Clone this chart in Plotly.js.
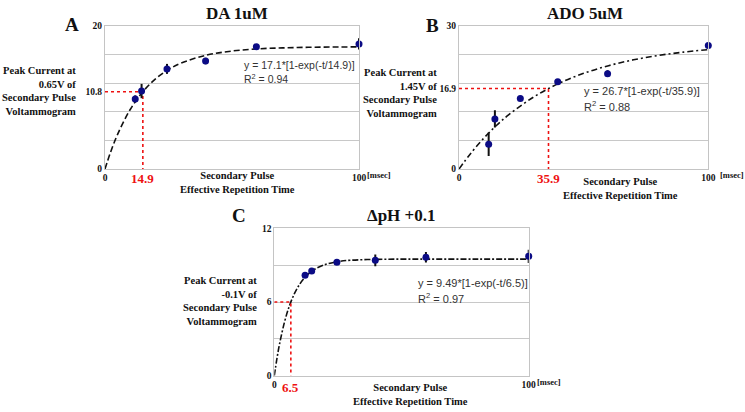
<!DOCTYPE html>
<html><head><meta charset="utf-8">
<script src="https://cdn.plot.ly/plotly-3.0.1.min.js"></script>
<style>html,body{margin:0;padding:0;background:#fff}</style>
</head><body>
<div id="chart" style="width:745px;height:412px"></div>
<script>
// ---- Panel A: DA 1uM ----
const timeA = [11.9, 14.4, 24.4, 39.6, 59.6, 100];
const currentA = [9.8, 10.9, 14.0, 15.1, 17.1, 17.5];
const errA = [0.5, 1.0, 0.7, 0.45, 0.2, 0.8];
const fitTimeA = [0, 2, 5, 10, 15, 20, 25, 30, 40, 50, 60, 70, 80, 90, 100];
const fitA = [0, 2.15, 4.88, 8.36, 10.85, 12.63, 13.91, 14.82, 15.93, 16.50, 16.80, 16.94, 17.02, 17.06, 17.08];
const tauA = 14.9, halfA = 10.8;
const eqA = ["y = 17.1*[1-exp(-t/14.9)]", "R<sup>2</sup> = 0.94"];

// ---- Panel B: ADO 5uM ----
const timeB = [11.9, 14.4, 24.6, 39.6, 59.6, 100];
const currentB = [5.2, 10.5, 14.8, 18.3, 20.0, 25.9];
const errB = [2.45, 1.8, 0.3, 0.3, 0.7, 0.3];
const fitTimeB = [0, 5, 10, 15, 20, 30, 40, 50, 60, 70, 80, 90, 100];
const fitB = [0, 3.47, 6.49, 9.12, 11.40, 15.12, 17.94, 20.07, 21.68, 22.90, 23.82, 24.52, 25.05];
const tauB = 35.9, halfB = 16.9;
const eqB = ["y = 26.7*[1-exp(-t/35.9)]", "R<sup>2</sup> = 0.88"];

// ---- Panel C: ΔpH +0.1 ----
const timeC = [12.1, 14.7, 24.6, 39.7, 59.6, 100];
const currentC = [8.17, 8.52, 9.23, 9.39, 9.64, 9.72];
const errC = [0.1, 0.1, 0.1, 0.47, 0.43, 0.54];
const fitTimeC = [0, 1, 2, 4, 6, 8, 10, 12, 15, 20, 25, 30, 40, 50, 60, 80, 100];
const fitC = [0, 1.35, 2.51, 4.36, 5.72, 6.72, 7.45, 7.99, 8.55, 9.05, 9.29, 9.40, 9.47, 9.49, 9.49, 9.49, 9.49];
const tauC = 6.5, halfC = 6;
const eqC = ["y = 9.49*[1-exp(-t/6.5)]", "R<sup>2</sup> = 0.97"];

const titles = ["DA 1uM", "ADO 5uM", "\u0394pH +0.1"];
const letters = ["A", "B", "C"];
const yLabels = [
  "Peak Current at<br>0.65V of<br>Secondary Pulse<br>Voltammogram",
  "Peak Current at<br>1.45V of<br>Secondary Pulse<br>Voltammogram",
  "Peak Current at<br>-0.1V of<br>Secondary Pulse<br>Voltammogram"
];
const xLabel = "Secondary Pulse<br>Effective Repetition Time";
const yTicksA = [0, 10.8, 20], yTicksB = [0, 16.9, 30], yTicksC = [0, 6, 12];
const xTicks = [0, 100];

const SERIF = "Liberation Serif, Times New Roman, serif";
const SANS = "Liberation Sans, Arial, sans-serif";
const W = 745, H = 412;
const px = v => v / W, py = v => 1 - v / H;

const panels = [
  {t: timeA, c: currentA, e: errA, ft: fitTimeA, f: fitA, tau: tauA, half: halfA, xa: 'x', ya: 'y', dash: '6px,3px'},
  {t: timeB, c: currentB, e: errB, ft: fitTimeB, f: fitB, tau: tauB, half: halfB, xa: 'x2', ya: 'y2', dash: '6px,3px,2px,3px'},
  {t: timeC, c: currentC, e: errC, ft: fitTimeC, f: fitC, tau: tauC, half: halfC, xa: 'x3', ya: 'y3', dash: '6px,2px,2px,2px'}
];

const traces = [];
panels.forEach(p => {
  traces.push({x: p.ft, y: p.f, xaxis: p.xa, yaxis: p.ya, mode: 'lines', line: {shape: 'spline', color: '#111', width: 1.6, dash: p.dash}, hoverinfo: 'skip', cliponaxis: false});
  traces.push({x: [0, p.tau, p.tau], y: [p.half, p.half, 0], xaxis: p.xa, yaxis: p.ya, mode: 'lines', line: {color: '#ee1111', width: 1.6, dash: 'dot'}, hoverinfo: 'skip'});
  traces.push({x: p.t, y: p.c, xaxis: p.xa, yaxis: p.ya, mode: 'markers', marker: {color: '#0b0b85', size: 7}, cliponaxis: false,
    error_y: {type: 'data', array: p.e, visible: true, color: '#111', thickness: 2, width: 0}});
});

function xAxis(domain) {
  return {domain: domain, range: [0, 100], showgrid: false, zeroline: false, showline: true, mirror: true,
    linecolor: '#c4c4c4', linewidth: 1, ticks: '', tickvals: xTicks, ticktext: xTicks.map(String),
    tickfont: {family: SERIF, size: 9.5, color: '#111', weight: 'bold'}, fixedrange: true};
}
function yAxis(domain, range, tv, dtick, major, anchor) {
  return {domain: domain, range: range, anchor: anchor, showgrid: major, gridcolor: '#c8c8c8', zeroline: false, showline: true, mirror: true,
    linecolor: '#c4c4c4', linewidth: 1, ticks: '', tickvals: tv, ticktext: tv.map(String),
    tickfont: {family: SERIF, size: 9.5, color: '#111', weight: 'bold'}, fixedrange: true,
    minor: {dtick: dtick, tick0: 0, showgrid: true, gridcolor: '#c8c8c8', ticks: ''}};
}

const annotations = [];
function ann(text, x, y, opts) {
  annotations.push(Object.assign({text: text, x: px(x), y: py(y), xref: 'paper', yref: 'paper', showarrow: false,
    xanchor: 'center', yanchor: 'middle'}, opts));
}
const titleFont = {family: SERIF, size: 17, color: '#111', weight: 'bold'};
const letterFont = {family: SERIF, size: 19, color: '#111', weight: 'bold'};
const labFont = {family: SERIF, size: 10.5, color: '#111', weight: 'bold'};
const eqFont = {family: SANS, size: 11, color: '#333'};
const eqFontA = {family: SANS, size: 10.5, color: '#333'};
const redFont = {family: SERIF, size: 13, color: '#ee1111', weight: 'bold'};
const msecFont = {family: SERIF, size: 8.5, color: '#111', weight: 'bold'};

// titles & letters
ann(titles[0], 237, 14, {font: titleFont});
ann(titles[1], 585, 14, {font: titleFont});
ann(titles[2], 401, 215, {font: titleFont});
ann(letters[0], 72, 25, {font: letterFont});
ann(letters[1], 432, 26, {font: letterFont});
ann(letters[2], 238.5, 215, {font: letterFont});
// y labels
ann(yLabels[0], 78, 91, {font: labFont, xanchor: 'right', align: 'right'});
ann(yLabels[1], 439, 93, {font: labFont, xanchor: 'right', align: 'right'});
ann(yLabels[2], 259, 301, {font: labFont, xanchor: 'right', align: 'right'});
// x labels
ann(xLabel, 237, 182, {font: labFont});
ann(xLabel, 620, 188.5, {font: labFont});
ann(xLabel, 410, 394.5, {font: labFont});
// equations
ann(eqA[0], 242, 65, {font: eqFontA, xanchor: 'left'});
ann(eqA[1], 242, 78, {font: eqFontA, xanchor: 'left'});
ann(eqB[0], 582, 91, {font: eqFont, xanchor: 'left'});
ann(eqB[1], 582, 106, {font: eqFont, xanchor: 'left'});
ann(eqC[0], 416, 283, {font: eqFont, xanchor: 'left'});
ann(eqC[1], 416, 298, {font: eqFont, xanchor: 'left'});
// red tau labels (x data coordinates)
annotations.push({text: String(tauA), x: tauA, xref: 'x', y: py(178), yref: 'paper', showarrow: false, font: redFont, yanchor: 'middle'});
annotations.push({text: String(tauB), x: tauB, xref: 'x2', y: py(178), yref: 'paper', showarrow: false, font: redFont, yanchor: 'middle'});
annotations.push({text: String(tauC), x: tauC, xref: 'x3', y: py(387), yref: 'paper', showarrow: false, font: redFont, yanchor: 'middle'});
// [msec]
annotations.push({text: "[msec]", x: 100, xref: 'x', xshift: 6, y: py(175), yref: 'paper', xanchor: 'left', showarrow: false, font: msecFont, yanchor: 'middle'});
annotations.push({text: "[msec]", x: 100, xref: 'x2', xshift: 10, y: py(175), yref: 'paper', xanchor: 'left', showarrow: false, font: msecFont, yanchor: 'middle'});
annotations.push({text: "[msec]", x: 100, xref: 'x3', xshift: 6, y: py(382), yref: 'paper', xanchor: 'left', showarrow: false, font: msecFont, yanchor: 'middle'});

const layout = {
  width: W, height: H, autosize: false, margin: {l: 0, r: 0, t: 0, b: 0},
  paper_bgcolor: '#fff', plot_bgcolor: '#fff', showlegend: false,
  xaxis: xAxis([px(105), px(359)]),
  yaxis: yAxis([py(169), py(26)], [0, 20], yTicksA, 4, false, 'x'),
  xaxis2: Object.assign(xAxis([px(459), px(708.3)]), {anchor: 'y2'}),
  yaxis2: yAxis([py(169), py(26)], [0, 30], yTicksB, 6, false, 'x2'),
  xaxis3: Object.assign(xAxis([px(274.3), px(528.7)]), {anchor: 'y3'}),
  yaxis3: yAxis([py(375.7), py(228.3)], [0, 12], yTicksC, 3, true, 'x3'),
  annotations: annotations
};
layout.xaxis.anchor = 'y';
Plotly.newPlot('chart', traces, layout, {staticPlot: true, displayModeBar: false});
</script>
</body></html>
